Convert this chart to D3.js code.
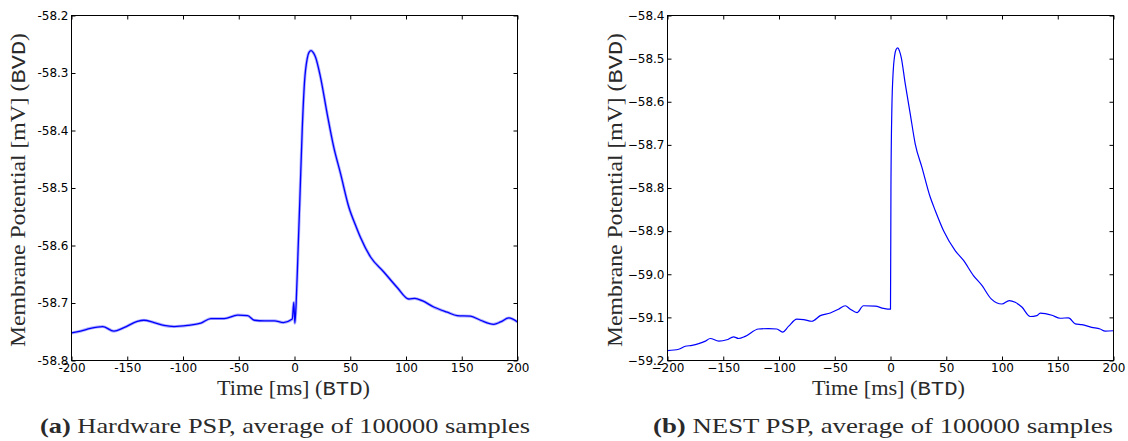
<!DOCTYPE html>
<html>
<head>
<meta charset="utf-8">
<script src="https://cdn.jsdelivr.net/npm/d3@7"></script>
<style>
  body { margin: 0; background: #fff; }
  .tick text { font-family: "DejaVu Sans", sans-serif; font-size: 12px; fill: #000; }
  .tick line { stroke: #000; }
  .lbl { font-family: "Liberation Serif", serif; fill: #2a2a2a; }
  .mono { font-family: "Liberation Mono", monospace; }
</style>
</head>
<body>
<svg id="chart" width="1128" height="441"></svg>
<script>
// hardware PSP (a)
var hwTime = [-200, -192, -183, -172, -162, -153, -141, -135, -126, -117, -108, -96, -84, -75, -63, -51, -42, -36, -27, -18, -10, -2, -0.6, 0.3,
    1.5, 3, 4.8, 6.9, 9, 11.4, 13, 15, 17, 18.8, 23.3, 29.3, 35.2, 41.3, 48.7, 55, 59.2, 68.2, 80.1, 92.1, 102.5, 108, 114.5, 124.9,
    137, 145.9, 157.8, 166.8, 178.7, 184.8, 192.2, 200];
var hwMv = [-58.752, -58.749, -58.744, -58.741, -58.749, -58.743, -58.732, -58.730, -58.734, -58.739, -58.741, -58.739, -58.735,
    -58.727, -58.727, -58.721, -58.722, -58.730, -58.731, -58.731, -58.734, -58.728, -58.699, -58.735,
    -58.70, -58.62, -58.52, -58.40, -58.315, -58.275, -58.264, -58.261, -58.265, -58.272, -58.307, -58.371, -58.429, -58.475,
    -58.533, -58.566, -58.586, -58.620, -58.646, -58.673, -58.693, -58.692, -58.696, -58.707, -58.716, -58.722, -58.723, -58.730,
    -58.737, -58.733, -58.726, -58.733];

// NEST PSP (b)
var nestTime = [-200, -190, -184, -178, -172, -166, -161.7, -154, -146.8, -140.8, -136.3, -130.3, -118.4, -109.4, -101.9, -96.8,
    -91.5, -84, -78, -70.5, -63, -54, -46.6, -40.6, -36, -30, -24.3, -13.7, -6.3, 0,
    0.4, 1.2, 2.4, 3.6, 5, 6.6, 8, 9.6, 13.2, 17.7, 22.2, 28.2, 35.6, 40.1, 47.6, 58, 65.5, 74.4, 82, 90.3, 99.9, 106.5,
    111.8, 117.8, 125.3, 131.3, 134.3, 144.8, 152.2, 159.7, 165.7, 171.6, 180.5, 188, 192.5, 200];
var nestMv = [-59.177, -59.174, -59.167, -59.165, -59.161, -59.155, -59.149, -59.155, -59.152, -59.145, -59.149, -59.144,
    -59.127, -59.126, -59.127, -59.134, -59.121, -59.104, -59.105, -59.109, -59.096, -59.090, -59.081, -59.073, -59.081,
    -59.089, -59.073, -59.074, -59.079, -59.081,
    -58.80, -58.62, -58.53, -58.495, -58.479, -58.475, -58.482, -58.497, -58.558, -58.628, -58.698, -58.752, -58.821,
    -58.852, -58.899, -58.945, -58.968, -59.003, -59.026, -59.057, -59.069, -59.061, -59.065, -59.076, -59.098, -59.096,
    -59.090, -59.095, -59.102, -59.101, -59.115, -59.117, -59.123, -59.127, -59.132, -59.131];

var xTicks = [-200, -150, -100, -50, 0, 50, 100, 150, 200];
var hwTicks = [-58.2, -58.3, -58.4, -58.5, -58.6, -58.7, -58.8];
var nestTicks = [-58.4, -58.5, -58.6, -58.7, -58.8, -58.9, -59.0, -59.1, -59.2];

var panels = [
    { t: hwTime, v: hwMv, yDom: [-58.8, -58.2], yt: hwTicks, left: 71.5, right: 517.5, hyphen: true, sw: 1.3, fuzz: 3,
      tag: "(a)", caption: " Hardware PSP, average of 100000 samples", capX: 40, capW: 490, yLblX: 25, xLblX: 217 },
    { t: nestTime, v: nestMv, yDom: [-59.2, -58.4], yt: nestTicks, left: 667.5, right: 1113.5, hyphen: false, sw: 1.2, fuzz: 0,
      tag: "(b)", caption: " NEST PSP, average of 100000 samples", capX: 653, capW: 460, yLblX: 622, xLblX: 812 }
];

var svg = d3.select("#chart");
var yTop = 15.5, yBottom = 360.5;

panels.forEach(function (p) {
    var x = d3.scaleLinear().domain([-200, 200]).range([p.left, p.right]);
    var y = d3.scaleLinear().domain(p.yDom).range([yBottom, yTop]);
    var fmtY = function (d) { var s = d3.format(".1f")(d); return p.hyphen ? s.replace("\u2212", "-") : s; };
    var fmtX = function (d) { var s = d3.format("d")(d); return p.hyphen ? s.replace("\u2212", "-") : s; };

    var g = svg.append("g");

    // trace
    var line = d3.line()
        .curve(d3.curveMonotoneX)
        .x(function (d, i) { return x(p.t[i]); })
        .y(function (d, i) { return y(p.v[i]); });
    if (p.fuzz) {
        // noisy average -> soft band under the line
        g.append("path")
            .datum(p.v)
            .attr("fill", "none")
            .attr("stroke", "#0000ff")
            .attr("stroke-opacity", 0.3)
            .attr("stroke-width", p.fuzz)
            .attr("d", line);
    }
    g.append("path")
        .datum(p.v)
        .attr("fill", "none")
        .attr("stroke", "#0000ff")
        .attr("stroke-width", p.sw)
        .attr("stroke-linejoin", "round")
        .attr("d", line);

    // axes, ticks pointing inward
    g.append("g").attr("transform", "translate(0," + yBottom + ")")
        .call(d3.axisBottom(x).tickValues(xTicks).tickSizeInner(-4).tickSizeOuter(0).tickPadding(3).tickFormat(fmtX))
        .call(function (a) { a.select(".domain").remove(); });
    g.append("g").attr("transform", "translate(0," + yTop + ")")
        .call(d3.axisTop(x).tickValues(xTicks).tickSizeInner(-4).tickSizeOuter(0).tickFormat(""))
        .call(function (a) { a.select(".domain").remove(); });
    g.append("g").attr("transform", "translate(" + p.left + ",0)")
        .call(d3.axisLeft(y).tickValues(p.yt).tickSizeInner(-4).tickSizeOuter(0).tickPadding(3).tickFormat(fmtY))
        .call(function (a) { a.select(".domain").remove(); });
    g.append("g").attr("transform", "translate(" + p.right + ",0)")
        .call(d3.axisRight(y).tickValues(p.yt).tickSizeInner(-4).tickSizeOuter(0).tickFormat(""))
        .call(function (a) { a.select(".domain").remove(); });

    g.selectAll(".tick text").attr("fill", "#000");

    // frame
    g.append("rect")
        .attr("x", p.left).attr("y", yTop)
        .attr("width", p.right - p.left).attr("height", yBottom - yTop)
        .attr("fill", "none").attr("stroke", "#000").attr("stroke-width", 1);

    // x label
    var xl = g.append("text").attr("class", "lbl")
        .attr("x", p.xLblX).attr("y", 395)
        .attr("font-size", 20)
        .attr("textLength", 153).attr("lengthAdjust", "spacingAndGlyphs");
    xl.append("tspan").text("Time [ms] (");
    xl.append("tspan").attr("class", "mono").text("BTD");
    xl.append("tspan").text(")");

    // y label
    var yl = g.append("text").attr("class", "lbl")
        .attr("transform", "translate(" + p.yLblX + ",347) rotate(-90)")
        .attr("font-size", 20)
        .attr("textLength", 314).attr("lengthAdjust", "spacingAndGlyphs");
    yl.append("tspan").text("Membrane Potential [mV] (");
    yl.append("tspan").attr("class", "mono").text("BVD");
    yl.append("tspan").text(")");

    // caption
    var cp = g.append("text").attr("class", "lbl")
        .attr("x", p.capX).attr("y", 433)
        .attr("font-size", 22)
        .attr("textLength", p.capW).attr("lengthAdjust", "spacingAndGlyphs");
    cp.append("tspan").attr("font-weight", "bold").text(p.tag);
    cp.append("tspan").text(p.caption);
});
</script>
</body>
</html>
